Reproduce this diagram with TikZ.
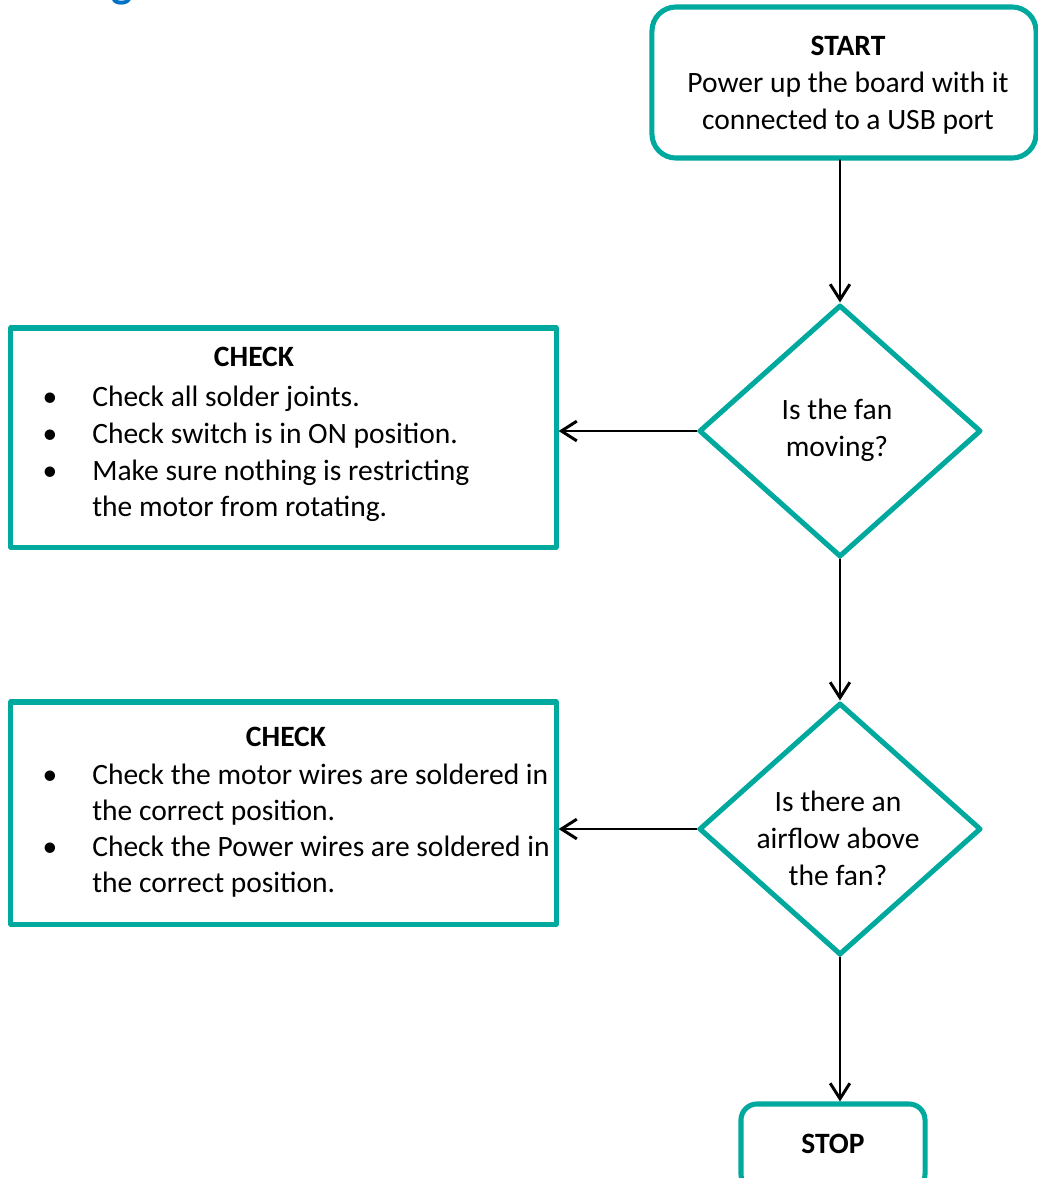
\documentclass[tikz,border=0pt]{standalone}
\usepackage{fontspec}
\setmainfont{Carlito}
\usepackage{tikz}
\usetikzlibrary{arrows.meta,shapes.geometric}
\definecolor{flowteal}{RGB}{0,169,157}
\definecolor{headblue}{RGB}{0,114,198}

\tikzset{
  every node/.style={font=\fontsize{21}{26.4}\selectfont},
  startbox/.style={draw=flowteal,line width=3.6pt,rounded corners=0.6cm,minimum width=9.6cm,minimum height=3.775cm,align=center},
  stopbox/.style={draw=flowteal,line width=3.6pt,rounded corners=0.4cm,minimum width=4.6cm,minimum height=2.15cm},
  checkbox/.style={draw=flowteal,line width=3.6pt,minimum width=13.625cm},
  decision/.style={diamond,draw=flowteal,line width=3.6pt,minimum width=7.05cm,minimum height=6.3cm,inner sep=0pt},
  txt/.style={anchor=base west,inner sep=0pt},
  flow/.style={->,line width=2.1pt,black}
}

\begin{document}
\begin{tikzpicture}[line cap=round,line join=round,>={Straight Barb[length=11pt,width=14pt]},x=0.025cm,y=-0.025cm]
		\useasboundingbox (0,0) rectangle (1038,1178);
		% heading fragment cut by the page edge
		\node[anchor=base,inner sep=0pt,text=headblue,font=\fontsize{32}{32}\selectfont\bfseries] (head) at (122,-3) {g};
		% main column
		\node[startbox] (start) at (844,82.5) {};
		\node[align=center] (startt) at (848,85) {\textbf{START}\\Power up the board with it\\connected to a USB port};
		\node[decision] (d1) at (840,431) {};
		\node[align=center] (d1t) at (837,430) {Is the fan\\moving?};
		\node[decision] (d2) at (840,829) {};
		\node[align=center] (d2t) at (838,838) {Is there an\\airflow above\\the fan?};
		\node[stopbox] (stop) at (833,1147) {\raisebox{5pt}{\textbf{STOP}}};
		% check boxes
		\node[checkbox,minimum height=5.475cm] (chk1) at (283.5,437.5) {};
		\node[checkbox,minimum height=5.55cm] (chk2) at (283.5,813) {};
		\node[anchor=base,inner sep=0pt] (chk1h) at (254,366) {\textbf{CHECK}};
		\node[anchor=base,inner sep=0pt] (chk2h) at (286,746) {\textbf{CHECK}};
		\foreach \y in {406,443,480}
		\node[anchor=base,inner sep=0pt] (ba\y) at (50,\y) {•};
		\foreach \y in {784,856}
		\node[anchor=base,inner sep=0pt] (bb\y) at (50,\y) {•};
		\node[txt] (c1a) at (92,406) {Check all solder joints.};
		\node[txt] (c1b) at (92,443) {Check switch is in ON position.};
		\node[txt] (c1c) at (92,480) {Make sure nothing is restricting};
		\node[txt] (c1d) at (92,516) {the motor from rotating.};
		\node[txt] (c2a) at (92,784) {Check the motor wires are soldered in};
		\node[txt] (c2b) at (92,820) {the correct position.};
		\node[txt] (c2c) at (92,856) {Check the Power wires are soldered in};
		\node[txt] (c2d) at (92,892) {the correct position.};
		% connectors
		\draw[flow] (start.south -| d1.north) -- (d1.north);
		\draw[flow] (d1.west) -- (d1.west -| chk1.east);
		\draw[flow] (d1.south) -- (d2.north);
		\draw[flow] (d2.west) -- (d2.west -| chk2.east);
		\draw[flow] (d2.south) -- (d2.south |- stop.north);
		
		\end{tikzpicture}
\end{document}
